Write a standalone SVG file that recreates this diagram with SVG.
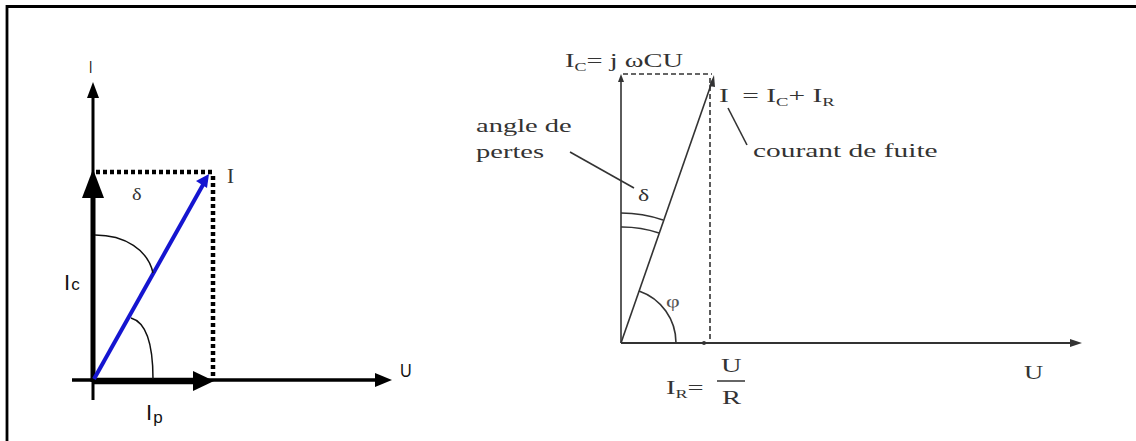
<svg xmlns="http://www.w3.org/2000/svg" width="1136" height="441" viewBox="0 0 1136 441">
<defs>
<style>
.ax{stroke:#000;fill:none}
.dot{stroke:#000;stroke-width:4.5;stroke-dasharray:4 3;fill:none}
.thin{stroke:#333;stroke-width:1.6;fill:none}
.dash{stroke:#333;stroke-width:1.6;stroke-dasharray:5 3;fill:none}
.sans{font-family:"Liberation Sans Narrow","Liberation Sans",sans-serif;fill:#111}
.ser{font-family:"Liberation Serif","Times New Roman",serif;fill:#333}
</style>
</defs>
<rect width="1136" height="441" fill="#fff"/>
<path d="M7,441 V6.5 H1136" stroke="#000" stroke-width="2.8" fill="none"/>

<g id="left-diagram">
<g id="connectors-left">
<line class="ax" x1="93" y1="400" x2="93" y2="95" stroke-width="3"/>
<polygon points="93,82 87,98 99,98" fill="#000"/>
<line class="ax" x1="93" y1="382" x2="93" y2="190" stroke-width="5"/>
<polygon points="93,169 82,198 104,198" fill="#000"/>
<line class="ax" x1="72" y1="380" x2="378" y2="380" stroke-width="3.5"/>
<polygon points="392,380 375,373 375,387" fill="#000"/>
<line class="ax" x1="93" y1="381" x2="196" y2="381" stroke-width="6.5"/>
<polygon points="214,381 193,371 193,391" fill="#000"/>
<path class="dot" d="M96,172 H212 M213,176 V379"/>
<line x1="94" y1="379" x2="204" y2="183" stroke="#1515d0" stroke-width="4"/>
<polygon points="209,174 196,181 207,188" fill="#1515d0"/>
<path d="M95,235 C125,235 148,250 153,273" stroke="#111" stroke-width="1.5" fill="none"/>
<path d="M131,318 C145,322 153,340 153,379" stroke="#111" stroke-width="1.5" fill="none"/>
</g>
<text class="sans" font-size="17" fill="#222" transform="translate(89 73) scale(0.7 1)">I</text>
<text class="ser" x="227" y="183" font-size="21" fill="#222">I</text>
<text class="ser" font-size="17" fill="#666" transform="translate(132 200) scale(1.2 1)">δ</text>
<text class="sans" x="64" y="290" font-size="22">I<tspan font-size="17" dx="1">c</tspan></text>
<text class="sans" x="146" y="420" font-size="22">I<tspan font-size="17" dy="3" dx="1">p</tspan></text>
<text class="sans" font-size="19" transform="translate(400 377) scale(0.85 1)">U</text>
</g>

<g id="right-diagram">
<g id="connectors-right">
<line class="thin" x1="621" y1="343" x2="621" y2="80"/>
<polygon points="621,74 618,82 624,82" fill="#333"/>
<path class="dash" d="M623,74 H712"/>
<path class="dash" d="M710,78 V343"/>
<line class="thin" x1="621" y1="343" x2="713" y2="79"/>
<polygon points="714,75 709,86 715,87" fill="#333"/>
<line x1="621" y1="343" x2="1072" y2="343" stroke="#333" stroke-width="2.2"/>
<polygon points="1082,343 1070,339 1070,347" fill="#333"/>
<circle cx="704" cy="343" r="2" fill="#333"/>
<path class="thin" d="M676,343 A55,55 0 0 0 639,291"/>
<path class="thin" d="M621,213 A130,130 0 0 1 663,220"/>
<path class="thin" d="M621,227 A116,116 0 0 1 659,233"/>
<line class="thin" x1="570" y1="152" x2="634" y2="188"/>
<line class="thin" x1="728" y1="108" x2="747" y2="145"/>
</g>
<g class="ser" font-size="19">
<text transform="translate(565 67) scale(1.5 1)">I<tspan font-size="12" dy="4">C</tspan><tspan dy="-4">= j ωCU</tspan></text>
<text transform="translate(719 102) scale(1.55 1)">I <tspan dx="4">= I</tspan><tspan font-size="12" dy="4">C</tspan><tspan dy="-4">+ I</tspan><tspan font-size="12" dy="4">R</tspan></text>
<text transform="translate(476 132) scale(1.5 1)">angle de</text>
<text transform="translate(476 158) scale(1.5 1)">pertes</text>
<text transform="translate(753 157) scale(1.55 1)">courant de fuite</text>
<text transform="translate(638 201) scale(1.4 1)" font-size="17">δ</text>
<text transform="translate(666 307) scale(1.4 1)" font-size="17" fill="#555">φ</text>
<text transform="translate(666 394) scale(1.5 1)">I<tspan font-size="12" dy="4">R</tspan><tspan dy="-4">=</tspan></text>
<text transform="translate(721 372) scale(1.5 1)">U</text>
<text transform="translate(722 404) scale(1.5 1)">R</text>
<text transform="translate(1024 379) scale(1.4 1)">U</text>
</g>
<line x1="717" y1="381" x2="745" y2="381" stroke="#333" stroke-width="1.5"/>
</g>
</svg>
